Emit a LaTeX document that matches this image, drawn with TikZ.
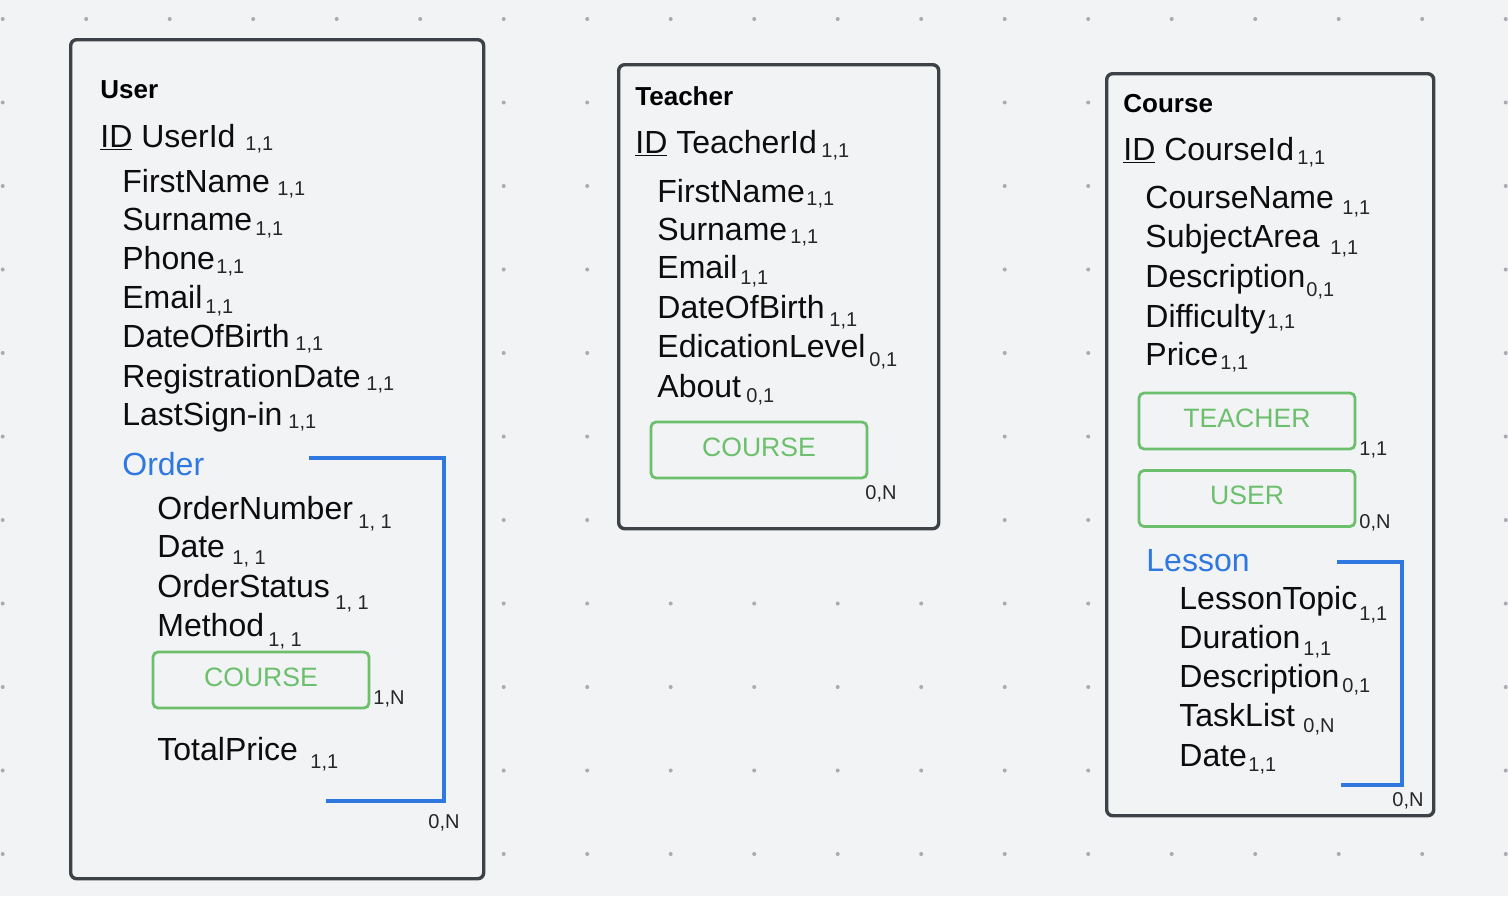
\documentclass[tikz,border=0pt]{standalone}
\usepackage{fontspec}
\setmainfont{Liberation Sans}
\definecolor{bg}{HTML}{F2F3F5}
\definecolor{frame}{HTML}{3D4248}
\definecolor{griddot}{HTML}{A8ABAF}
\definecolor{rel}{HTML}{6CBF6C}
\definecolor{grp}{HTML}{2F78E0}

\begin{document}
\begin{tikzpicture}[x=0.5pt, y=-0.5pt]
\tikzstyle{entity} = [draw=frame, line width=1.7pt, rounded corners=3pt, fill=bg, anchor=north west, inner sep=0pt]
\tikzstyle{title} = [anchor=base west, inner sep=0pt, font=\bfseries\fontsize{13}{15}\selectfont]
\tikzstyle{attr} = [anchor=base west, inner sep=0pt, font=\fontsize{16}{19}\selectfont, text=black!95]
\tikzstyle{card} = [anchor=base west, inner sep=0pt, font=\fontsize{10}{12}\selectfont, text=black!85]
\tikzstyle{group} = [attr, text=grp]
\tikzstyle{link} = [draw=rel, line width=1.4pt, rounded corners=2.5pt, text=rel, minimum width=108pt, minimum height=28pt, inner sep=0pt, text depth=3pt, font=\fontsize{13.3}{15}\selectfont]
\tikzstyle{bracket} = [draw=grp, line width=1.6pt]

\useasboundingbox (0,0) rectangle (1508,896);
\fill[bg] (0,0) rectangle (1508,896);
\foreach \i in {0,...,18}
  \foreach \j in {0,...,10}
    \fill[griddot] (2.7+83.5*\i, 19+83.5*\j) circle (1pt);

% User
\node[entity, minimum width=206.5pt, minimum height=419.5pt] (user) at (69,38) {};
\node[title] (u-t) at (100,98) {User};
\node[attr] (u-id) at (100,147) {\underline{ID} UserId};
\node[card] (u-id-c) at (245,150) {1,1};
\node[attr] (u-fn) at (122,192) {FirstName};
\node[card] (u-fn-c) at (277,195) {1,1};
\node[attr] (u-sn) at (122,230) {Surname};
\node[card] (u-sn-c) at (255,235) {1,1};
\node[attr] (u-ph) at (122,269) {Phone};
\node[card] (u-ph-c) at (216,273) {1,1};
\node[attr] (u-em) at (122,308) {Email};
\node[card] (u-em-c) at (205,313) {1,1};
\node[attr] (u-db) at (122,347) {DateOfBirth};
\node[card] (u-db-c) at (295,350) {1,1};
\node[attr] (u-rd) at (122,387) {RegistrationDate};
\node[card] (u-rd-c) at (366,390) {1,1};
\node[attr] (u-ls) at (122,425) {LastSign-in};
\node[card] (u-ls-c) at (288,428) {1,1};

\node[group] (u-ord) at (122,475) {Order};
\node[attr] (o-num) at (157,519) {OrderNumber};
\node[card] (o-num-c) at (358,528) {1, 1};
\node[attr] (o-dt) at (157,557) {Date};
\node[card] (o-dt-c) at (232,564) {1, 1};
\node[attr] (o-st) at (157,597) {OrderStatus};
\node[card] (o-st-c) at (335,609) {1, 1};
\node[attr] (o-me) at (157,636) {Method};
\node[card] (o-me-c) at (268,646) {1, 1};
\node[link] (o-crs) at (261,680) {COURSE};
\node[card] (o-crs-c) at (373,704) {1,N};
\node[attr] (o-tp) at (157,760) {TotalPrice};
\node[card] (o-tp-c) at (310,768) {1,1};

\coordinate (o-b1) at (309,458);
\coordinate (o-b2) at (444,458);
\coordinate (o-b3) at (444,801);
\coordinate (o-b4) at (326,801);
\draw[bracket] (o-b1) -- (o-b2) -- (o-b3) -- (o-b4);
\node[card] (u-ord-c) at (428,828) {0,N};

% Teacher
\node[entity, minimum width=160pt, minimum height=232pt] (teacher) at (617,63) {};
\node[title] (t-t) at (635,105) {Teacher};
\node[attr] (t-id) at (635,153) {\underline{ID} TeacherId};
\node[card] (t-id-c) at (821,157) {1,1};
\node[attr] (t-fn) at (657,202) {FirstName};
\node[card] (t-fn-c) at (806,205) {1,1};
\node[attr] (t-sn) at (657,240) {Surname};
\node[card] (t-sn-c) at (790,243) {1,1};
\node[attr] (t-em) at (657,278) {Email};
\node[card] (t-em-c) at (740,284) {1,1};
\node[attr] (t-db) at (657,318) {DateOfBirth};
\node[card] (t-db-c) at (829,326) {1,1};
\node[attr] (t-el) at (657,357) {EdicationLevel};
\node[card] (t-el-c) at (869,366) {0,1};
\node[attr] (t-ab) at (657,397) {About};
\node[card] (t-ab-c) at (746,402) {0,1};
\node[link] (t-crs) at (759,450) {COURSE};
\node[card] (t-crs-c) at (865,499) {0,N};

% Course
\node[entity, minimum width=163.5pt, minimum height=371pt] (course) at (1105,72) {};
\node[title] (c-t) at (1123,112) {Course};
\node[attr] (c-id) at (1123,160) {\underline{ID} CourseId};
\node[card] (c-id-c) at (1297,164) {1,1};
\node[attr] (c-nm) at (1145,208) {CourseName};
\node[card] (c-nm-c) at (1342,214) {1,1};
\node[attr] (c-sa) at (1145,247) {SubjectArea};
\node[card] (c-sa-c) at (1330,254) {1,1};
\node[attr] (c-ds) at (1145,287) {Description};
\node[card] (c-ds-c) at (1306,296) {0,1};
\node[attr] (c-df) at (1145,327) {Difficulty};
\node[card] (c-df-c) at (1267,328) {1,1};
\node[attr] (c-pr) at (1145,365) {Price};
\node[card] (c-pr-c) at (1220,369) {1,1};
\node[link] (c-tch) at (1247,421) {TEACHER};
\node[card] (c-tch-c) at (1359,455) {1,1};
\node[link] (c-usr) at (1247,498.5) {USER};
\node[card] (c-usr-c) at (1359,528) {0,N};

\node[group] (c-les) at (1146,571) {Lesson};
\node[attr] (l-tp) at (1179,609) {LessonTopic};
\node[card] (l-tp-c) at (1359,620) {1,1};
\node[attr] (l-du) at (1179,648) {Duration};
\node[card] (l-du-c) at (1303,655) {1,1};
\node[attr] (l-ds) at (1179,687) {Description};
\node[card] (l-ds-c) at (1342,692) {0,1};
\node[attr] (l-tl) at (1179,726) {TaskList};
\node[card] (l-tl-c) at (1303,732) {0,N};
\node[attr] (l-dt) at (1179,766) {Date};
\node[card] (l-dt-c) at (1248,771) {1,1};

\coordinate (l-b1) at (1337,562);
\coordinate (l-b2) at (1402,562);
\coordinate (l-b3) at (1402,785);
\coordinate (l-b4) at (1341,785);
\draw[bracket] (l-b1) -- (l-b2) -- (l-b3) -- (l-b4);
\node[card] (c-les-c) at (1392,806) {0,N};
\end{tikzpicture}
\end{document}
